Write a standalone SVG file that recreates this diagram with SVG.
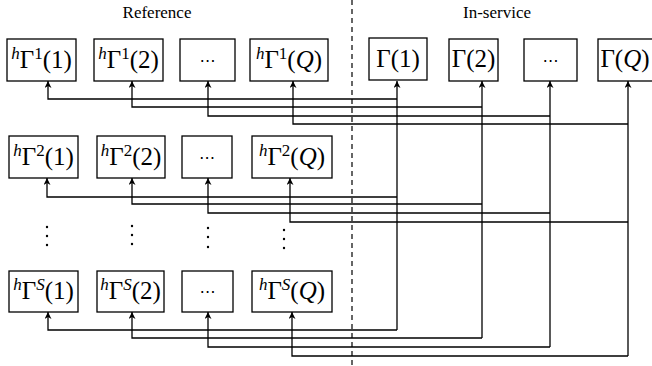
<svg xmlns="http://www.w3.org/2000/svg" width="652" height="366" viewBox="0 0 652 366">
<defs>
<marker id="arr" viewBox="0 0 10 10" refX="10" refY="5" markerWidth="7" markerHeight="7" markerUnits="userSpaceOnUse" orient="auto">
<path d="M0,0 L10,5 L0,10 L3,5 Z" fill="#000"/>
</marker>
<style>
.box{fill:#fff;stroke:#000;stroke-width:1.3}
.t{font-family:"Liberation Serif","Times New Roman",serif;font-size:25px;fill:#000;text-anchor:middle}
.i{font-style:italic}
.s{font-size:17px}
.title{font-family:"Liberation Serif","Times New Roman",serif;font-size:17px;fill:#000;text-anchor:middle}
.c{fill:none;stroke:#000;stroke-width:1.3}
.dots{font-family:"DejaVu Sans",sans-serif;font-size:16px;fill:#000;text-anchor:middle}
.vd{fill:#000}
</style>
</defs>
<rect width="652" height="366" fill="#fff"/>
<text class="title" x="157" y="18">Reference</text>
<text class="title" x="497" y="18">In-service</text>
<line x1="352" y1="0" x2="352" y2="366" stroke="#000" stroke-width="1.2" stroke-dasharray="5,4"/>

<g id="connectors">
<path class="c" d="M397,330 V81" marker-end="url(#arr)"/>
<path class="c" d="M482,338 V81" marker-end="url(#arr)"/>
<path class="c" d="M550,347 V81" marker-end="url(#arr)"/>
<path class="c" d="M628,356 V81" marker-end="url(#arr)"/>
<path class="c" d="M397,99 H48 V81" marker-end="url(#arr)"/>
<path class="c" d="M482,107 H132 V81" marker-end="url(#arr)"/>
<path class="c" d="M550,116 H208 V81" marker-end="url(#arr)"/>
<path class="c" d="M628,124 H293 V81" marker-end="url(#arr)"/>
<path class="c" d="M397,197 H47 V178" marker-end="url(#arr)"/>
<path class="c" d="M482,204 H132 V178" marker-end="url(#arr)"/>
<path class="c" d="M550,213 H208 V178" marker-end="url(#arr)"/>
<path class="c" d="M628,222 H290 V178" marker-end="url(#arr)"/>
<path class="c" d="M397,330 H48 V312" marker-end="url(#arr)"/>
<path class="c" d="M482,338 H132 V312" marker-end="url(#arr)"/>
<path class="c" d="M550,347 H208 V312" marker-end="url(#arr)"/>
<path class="c" d="M628,356 H292 V312" marker-end="url(#arr)"/>
</g>

<g id="ref-1-1"><rect class="box" x="7" y="39" width="69" height="42"/><text class="t" x="41.5" y="68"><tspan class="i s" dy="-9">h</tspan><tspan dy="9">Γ</tspan><tspan class="s" dy="-9">1</tspan><tspan dy="9">(1)</tspan></text></g>
<g id="ref-1-2"><rect class="box" x="94" y="39" width="69" height="42"/><text class="t" x="128.5" y="68"><tspan class="i s" dy="-9">h</tspan><tspan dy="9">Γ</tspan><tspan class="s" dy="-9">1</tspan><tspan dy="9">(2)</tspan></text></g>
<g id="ref-1-3"><rect class="box" x="180" y="39" width="55" height="42"/><text class="dots" x="207.5" y="66">⋯</text></g>
<g id="ref-1-Q"><rect class="box" x="250" y="39" width="78" height="42"/><text class="t" x="289" y="68"><tspan class="i s" dy="-9">h</tspan><tspan dy="9">Γ</tspan><tspan class="s" dy="-9">1</tspan><tspan dy="9">(</tspan><tspan class="i">Q</tspan><tspan>)</tspan></text></g>

<g id="in-1"><rect class="box" x="369" y="38" width="58" height="42"/><text class="t" x="398" y="67">Γ(1)</text></g>
<g id="in-2"><rect class="box" x="449" y="39" width="49" height="42"/><text class="t" x="473.5" y="67">Γ(2)</text></g>
<g id="in-3"><rect class="box" x="524" y="39" width="53" height="42"/><text class="dots" x="550.5" y="66">⋯</text></g>
<g id="in-Q"><rect class="box" x="598" y="39" width="64" height="42"/><text class="t" x="625" y="67">Γ(<tspan class="i">Q</tspan>)</text></g>

<g id="ref-2-1"><rect class="box" x="9" y="136" width="69" height="42"/><text class="t" x="43.5" y="165"><tspan class="i s" dy="-9">h</tspan><tspan dy="9">Γ</tspan><tspan class="s" dy="-9">2</tspan><tspan dy="9">(1)</tspan></text></g>
<g id="ref-2-2"><rect class="box" x="97" y="136" width="68" height="42"/><text class="t" x="131" y="165"><tspan class="i s" dy="-9">h</tspan><tspan dy="9">Γ</tspan><tspan class="s" dy="-9">2</tspan><tspan dy="9">(2)</tspan></text></g>
<g id="ref-2-3"><rect class="box" x="182" y="136" width="50" height="42"/><text class="dots" x="207" y="163">⋯</text></g>
<g id="ref-2-Q"><rect class="box" x="252" y="136" width="80" height="42"/><text class="t" x="292" y="165"><tspan class="i s" dy="-9">h</tspan><tspan dy="9">Γ</tspan><tspan class="s" dy="-9">2</tspan><tspan dy="9">(</tspan><tspan class="i">Q</tspan><tspan>)</tspan></text></g>

<g id="vdots">
<circle class="vd" cx="47" cy="227" r="1.2"/><circle class="vd" cx="47" cy="236" r="1.2"/><circle class="vd" cx="47" cy="245" r="1.2"/>
<circle class="vd" cx="132" cy="226" r="1.2"/><circle class="vd" cx="132" cy="235" r="1.2"/><circle class="vd" cx="132" cy="244" r="1.2"/>
<circle class="vd" cx="208" cy="228" r="1.2"/><circle class="vd" cx="208" cy="237" r="1.2"/><circle class="vd" cx="208" cy="247" r="1.2"/>
<circle class="vd" cx="284" cy="230" r="1.2"/><circle class="vd" cx="284" cy="239" r="1.2"/><circle class="vd" cx="284" cy="248" r="1.2"/>
</g>

<g id="ref-S-1"><rect class="box" x="9" y="271" width="69" height="41"/><text class="t" x="43.5" y="299"><tspan class="i s" dy="-9">h</tspan><tspan dy="9">Γ</tspan><tspan class="s i" dy="-9">S</tspan><tspan dy="9">(1)</tspan></text></g>
<g id="ref-S-2"><rect class="box" x="97" y="271" width="67" height="41"/><text class="t" x="130.5" y="299"><tspan class="i s" dy="-9">h</tspan><tspan dy="9">Γ</tspan><tspan class="s i" dy="-9">S</tspan><tspan dy="9">(2)</tspan></text></g>
<g id="ref-S-3"><rect class="box" x="182" y="271" width="51" height="41"/><text class="dots" x="207.5" y="297">⋯</text></g>
<g id="ref-S-Q"><rect class="box" x="252" y="271" width="80" height="41"/><text class="t" x="292" y="299"><tspan class="i s" dy="-9">h</tspan><tspan dy="9">Γ</tspan><tspan class="s i" dy="-9">S</tspan><tspan dy="9">(</tspan><tspan class="i">Q</tspan><tspan>)</tspan></text></g>
</svg>
